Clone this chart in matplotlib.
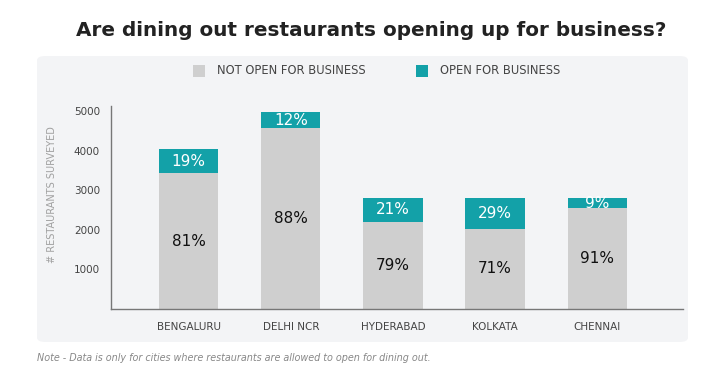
import matplotlib
matplotlib.use("Agg")
import matplotlib.pyplot as plt
from matplotlib.patches import FancyBboxPatch, Rectangle
import numpy as np

cities = ["BENGALURU", "DELHI NCR", "HYDERABAD", "KOLKATA", "CHENNAI"]
not_open = [3430, 4570, 2200, 2020, 2550]
open_biz = [600, 400, 600, 780, 250]
not_open_pct = ["81%", "88%", "79%", "71%", "91%"]
open_pct = ["19%", "12%", "21%", "29%", "9%"]
yticks = [1000, 2000, 3000, 4000, 5000]

GREY = "#cfcfcf"
TEAL = "#13a1a8"

fig = plt.figure(figsize=(7.23, 3.69), dpi=100)
fig.patch.set_facecolor("white")

# panel background
panel = FancyBboxPatch((37/723, 1 - 342/369), (688-37)/723, (342-56)/369,
                       boxstyle="round,pad=0,rounding_size=0.012",
                       transform=fig.transFigure, facecolor="#f3f4f6",
                       edgecolor="none", zorder=-5)
fig.patches.append(panel)

fig.text(371/723, 1 - 36/369, "Are dining out restaurants opening up for business?",
         ha="center", va="baseline", fontsize=14.4, fontweight="bold", color="#222222",
         family="DejaVu Sans")

ax = fig.add_axes([111/723, 1 - 309/369, (683-111)/723, (309-106)/369])
ax.set_zorder(2)
ax.set_facecolor("none")
x = np.arange(len(cities))
w = 0.58
ax.bar(x, not_open, width=w, color=GREY, zorder=2)
ax.bar(x, open_biz, width=w, bottom=not_open, color=TEAL, zorder=2)

for i in range(len(cities)):
    ax.text(x[i], not_open[i] / 2, not_open_pct[i], ha="center", va="center",
            fontsize=11, color="#111111", zorder=3)
    ax.text(x[i], not_open[i] + open_biz[i] / 2, open_pct[i], ha="center", va="center",
            fontsize=11, color="white", zorder=3)

ax.set_xlim(-0.76, 4.84)
ax.set_ylim(0, 5125)
ax.set_xticks(x)
ax.set_xticklabels(cities, fontsize=7.5, color="#444444")
ax.set_yticks(yticks)
ax.set_yticklabels([str(t) for t in yticks], fontsize=7.5, color="#444444")
ax.tick_params(axis="both", length=0)
ax.tick_params(axis="x", pad=9)
ax.tick_params(axis="y", pad=8)
for s in ["top", "right"]:
    ax.spines[s].set_visible(False)
for s in ["left", "bottom"]:
    ax.spines[s].set_color("#777777")
    ax.spines[s].set_linewidth(1)

fig.text(52/723, 1 - 195/369, "# RESTAURANTS SURVEYED", rotation=90, ha="center", va="center",
         fontsize=7, color="#a0a0a0")

# legend
for (lx, label, col) in [(193, "NOT OPEN FOR BUSINESS", GREY), (416, "OPEN FOR BUSINESS", TEAL)]:
    fig.patches.append(Rectangle((lx/723, 1 - 77/369), 12/723, 12/369,
                                 transform=fig.transFigure, facecolor=col, edgecolor="none"))
    fig.text((lx + 24)/723, 1 - 71/369, label, ha="left", va="center", fontsize=8.3,
             color="#444444")

fig.text(37/723, 1 - 358/369,
         "Note - Data is only for cities where restaurants are allowed to open for dining out.",
         ha="left", va="center", fontsize=6.9, style="italic", color="#888888")

fig.savefig("out.png", dpi=100)
